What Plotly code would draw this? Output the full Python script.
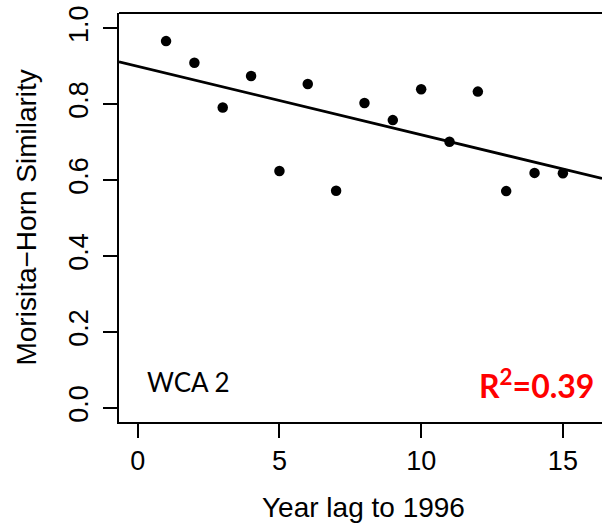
import numpy as np
import plotly.graph_objects as go

year_lag = [1, 2, 3, 4, 5, 6, 7, 8, 9, 10, 11, 12, 13, 14, 15]
similarity = [0.966, 0.909, 0.791, 0.874, 0.624, 0.853, 0.572, 0.803, 0.758,
              0.839, 0.701, 0.833, 0.571, 0.619, 0.618]
x_ticks = [0, 5, 10, 15]
y_ticks = [0.0, 0.2, 0.4, 0.6, 0.8, 1.0]
y_tick_labels = ["0.0", "0.2", "0.4", "0.6", "0.8", "1.0"]
x_title = "Year lag to 1996"
y_title = "Morisita\u2212Horn Similarity"
site_label = "WCA 2"
r2_label = "R<sup>2</sup>=0.39"

X_RANGE = [-0.66, 16.38]
Y_RANGE = [-0.037, 1.04]

slope, intercept = np.polyfit(year_lag, similarity, 1)
line_x = np.array(X_RANGE)
line_y = intercept + slope * line_x

fig = go.Figure()
fig.add_trace(go.Scatter(x=line_x, y=line_y, mode="lines",
                         line=dict(color="black", width=2.8),
                         hoverinfo="skip", showlegend=False))
fig.add_trace(go.Scatter(x=year_lag, y=similarity, mode="markers",
                         marker=dict(color="black", size=10.5),
                         showlegend=False))

tickfont = dict(family="Liberation Sans", size=27, color="black")
fig.update_layout(
    width=602, height=526,
    margin=dict(l=119, r=0, t=13, b=104),
    paper_bgcolor="white", plot_bgcolor="white",
    xaxis=dict(range=X_RANGE, tickvals=x_ticks, ticks="outside", ticklen=14,
               tickwidth=2, tickcolor="black", showgrid=False, zeroline=False,
               showline=True, linecolor="black", linewidth=2,
               tickfont=tickfont, ticklabelstandoff=0),
    yaxis=dict(range=Y_RANGE, tickvals=y_ticks, ticktext=y_tick_labels,
               ticks="outside", ticklen=14, tickwidth=2, tickcolor="black",
               showgrid=False, zeroline=False, showline=True,
               linecolor="black", linewidth=2, tickangle=-90,
               tickfont=tickfont, ticklabelstandoff=4),
    shapes=[dict(type="line", xref="paper", yref="paper", x0=0, x1=1, y0=1, y1=1,
                 line=dict(color="black", width=2))],
    annotations=[
        dict(text=x_title, xref="paper", yref="paper", x=0.507, y=-0.21,
             xanchor="center", yanchor="middle", showarrow=False,
             font=dict(family="Liberation Sans", size=28, color="black")),
        dict(text=y_title, xref="paper", yref="paper", x=-0.1925, y=0.5,
             xanchor="center", yanchor="middle", showarrow=False, textangle=-90,
             font=dict(family="Liberation Sans", size=28, color="black")),
        dict(text=site_label, xref="x", yref="y", x=0.24, y=0.068,
             xanchor="left", yanchor="middle", showarrow=False,
             font=dict(family="Lato", size=26, color="black")),
        dict(text=r2_label, xref="x", yref="y", x=16.16, y=0.063,
             xanchor="right", yanchor="middle", showarrow=False,
             font=dict(family="Lato", size=32, color="#ff0000", weight="bold")),
    ],
)
fig.write_html("out.html")
